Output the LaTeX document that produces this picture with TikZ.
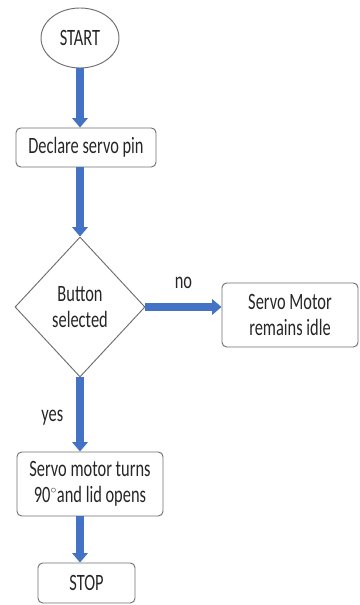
\documentclass[tikz,border=0pt]{standalone}
\usepackage{fontspec}
\setmainfont{Carlito}[FakeStretch=0.7]
\usetikzlibrary{arrows.meta, shapes.geometric, positioning, calc}
\definecolor{flowblue}{RGB}{68,114,196}
\definecolor{boxgray}{RGB}{110,110,110}

\begin{document}
\begin{tikzpicture}[
    font=\fontsize{20}{22}\selectfont, text=black!85,
    box/.style={draw=boxgray, line width=0.8pt, rounded corners=4pt, align=center, inner sep=0pt},
    flow/.style={draw=flowblue, line width=6pt, -{Triangle[length=8pt, width=13pt]}}
  ]
  \useasboundingbox (0, 0) rectangle (10.8, 18.15);

  % steps of the flow
  \node[ellipse, draw=boxgray, line width=0.8pt, inner sep=0pt,
    minimum width=2.34cm, minimum height=1.8cm] (start) at (2.4, 17.01) {START};
  \node[box, minimum width=4.2cm, minimum height=1.17cm] (declare) at (2.58, 13.725) {Declare servo pin};
  \node[diamond, draw=boxgray, line width=0.8pt, inner sep=0pt, align=center,
    minimum width=3.9cm, minimum height=4.2cm] (button) at (2.4, 8.94) {Button\\selected};
  \node[box, minimum width=4.08cm, minimum height=1.92cm] (idle) at (8.7, 8.7) {Servo Motor\\remains idle};
  \node[box, minimum width=4.38cm, minimum height=1.92cm] (turns) at (2.7, 3.63) {Servo motor turns\\90$^{\scriptscriptstyle\circ}$and lid opens};
  \node[box, minimum width=2.91cm, minimum height=1.2cm] (stop) at (2.595, 0.66) {STOP};

  % connectors
  \draw[flow] (start.south) -- (start.south |- declare.north);
  \draw[flow] (declare.south -| button.north) -- (button.north);
  \draw[flow] (button.east) -- (button.east -| idle.west)
    node[midway, above=9pt, text=black!85] (no) {no};
  \draw[flow] (button.south) -- (button.south |- turns.north)
    node[pos=0.55, left=8pt, text=black!85] (yes) {yes};
  \draw[flow] (turns.south -| button.south) -- (button.south |- stop.north);
\end{tikzpicture}
\end{document}
